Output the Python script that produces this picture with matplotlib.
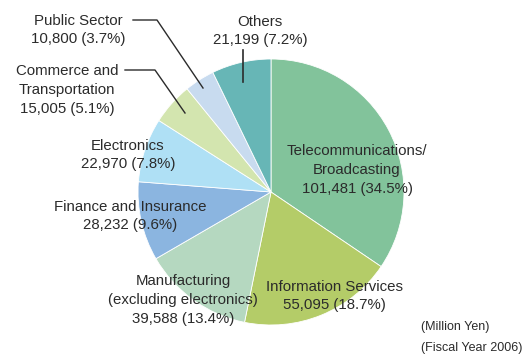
import matplotlib
matplotlib.use("Agg")
import matplotlib.pyplot as plt

plt.rcParams['font.family'] = ['Liberation Sans', 'DejaVu Sans']

# data (million yen, FY2006), clockwise from 12 o'clock
sectors = ["Telecommunications/\nBroadcasting", "Information Services",
           "Manufacturing\n(excluding electronics)", "Finance and Insurance",
           "Electronics", "Commerce and\nTransportation", "Public Sector", "Others"]
values = [101481, 55095, 39588, 28232, 22970, 15005, 10800, 21199]
shares = [34.5, 18.7, 13.4, 9.6, 7.8, 5.1, 3.7, 7.2]
colors = ["#82c39b", "#b4cc68", "#b5d8c0", "#8bb5e0",
          "#afe0f5", "#d3e5af", "#c8dbef", "#67b6b6"]

W, H = 525, 358
fig = plt.figure(figsize=(W / 100, H / 100), dpi=100)
ax = fig.add_axes([0, 0, 1, 1])

cx, cy, r = 271, H - 192, 133
ax.pie(values, colors=colors, startangle=90, counterclock=False,
       center=(cx, cy), radius=r, frame=True,
       wedgeprops=dict(edgecolor='white', linewidth=0.6))
ax.set_xlim(0, W)
ax.set_ylim(0, H)
ax.set_aspect('equal')
ax.axis('off')

labels = [f"{s}\n{v:,} ({p}%)" for s, v, p in zip(sectors, values, shares)]
# label centres in pixel coords (from top-left)
pos = [(357, 170), (334, 296), (183, 300), (130, 216),
       (128, 155), (67, 90), (78, 30), (260, 31)]
tc = "#2b2b2b"
for lab, (x, y) in zip(labels, pos):
    ax.text(x, H - y, lab, ha='center', va='center', fontsize=10.8,
            color=tc, linespacing=1.45, zorder=6)

# leader lines
lc = "#2b2b2b"
ax.plot([243, 243], [H - 50, H - 82], color=lc, lw=1.2, zorder=5)
ax.plot([133, 157, 203], [H - 20, H - 20, H - 88], color=lc, lw=1, zorder=5)
ax.plot([125, 155, 185], [H - 70, H - 70, H - 113], color=lc, lw=1, zorder=5)

ax.text(421, H - 327, "(Million Yen)", ha='left', va='center', fontsize=9, color=tc)
ax.text(421, H - 348, "(Fiscal Year 2006)", ha='left', va='center', fontsize=9, color=tc)

fig.savefig("out.png", dpi=100)
